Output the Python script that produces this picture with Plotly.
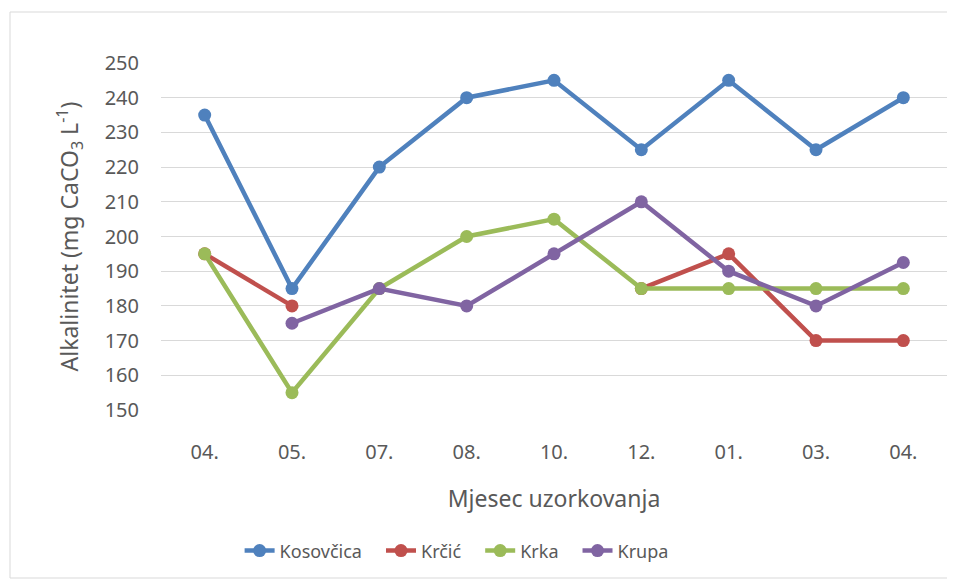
import plotly.graph_objects as go

months = ["04.", "05.", "07.", "08.", "10.", "12.", "01.", "03.", "04."]
kosovcica = [235, 185, 220, 240, 245, 225, 245, 225, 240]
krcic = [195, 180, None, None, None, 185, 195, 170, 170]
krka = [195, 155, 185, 200, 205, 185, 185, 185, 185]
krupa = [None, 175, 185, 180, 195, 210, 190, 180, 192.5]

series = [("Kosovčica", kosovcica, "#4F81BD"),
          ("Krčić", krcic, "#C0504D"),
          ("Krka", krka, "#9BBB59"),
          ("Krupa", krupa, "#8064A2")]

pos = list(range(len(months)))
fig = go.Figure()
for name, vals, col in series:
    fig.add_trace(go.Scatter(x=pos, y=vals, name=name + "\u00a0\u00a0\u00a0", mode="lines+markers",
                             line=dict(color=col, width=4.5),
                             marker=dict(color=col, size=13)))

# the page body has an 8px margin, so the figure is laid out 8px smaller
font = "Noto Sans"
fig.update_layout(
    width=947, height=575,
    margin=dict(l=153, r=8, t=55, b=173),
    plot_bgcolor="white", paper_bgcolor="white",
    font=dict(family=font, size=20, color="#595959"),
    xaxis=dict(tickvals=pos, ticktext=months, range=[-0.5, 8.5], automargin=False,
               showgrid=False, zeroline=False, ticks="", ticklen=0,
               ticklabelstandoff=28,
               title=dict(text="Mjesec uzorkovanja", font=dict(size=23), standoff=26)),
    yaxis=dict(range=[150, 250], dtick=10, showgrid=True, gridcolor="#d9d9d9",
               gridwidth=1.3, zeroline=False, ticks="", automargin=False,
               ticklabelstandoff=21,
               title=dict(text="Alkalinitet (mg CaCO<sub>3</sub> L<sup>-1</sup>)",
                          font=dict(size=23), standoff=19)),
    legend=dict(orientation="h", x=0.385, xanchor="center", y=-0.406, yanchor="middle",
                font=dict(size=18, color="#595959")),
    shapes=[dict(type="rect", xref="paper", yref="paper",
                 x0=(2 - 153) / 786, x1=(942 - 153) / 786,
                 y0=(402 - 570) / 347, y1=(402 - 4) / 347,
                 line=dict(color="#d9d9d9", width=1), layer="below")],
)

fig.write_html("out.html")
